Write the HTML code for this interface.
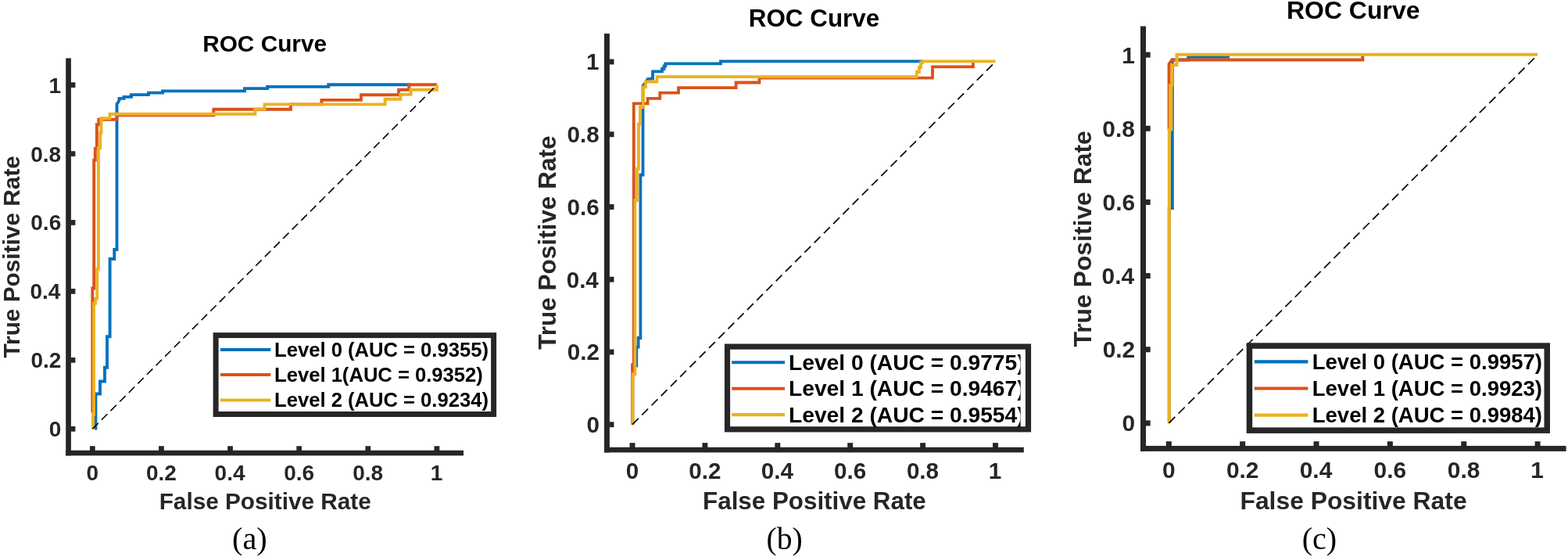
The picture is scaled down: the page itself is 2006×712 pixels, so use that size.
<!DOCTYPE html>
<html><head><meta charset="utf-8"><title>ROC Curves</title>
<style>html,body{margin:0;padding:0;background:#fff;}svg{display:block;}</style></head>
<body><svg width="2006" height="712" viewBox="0 0 2006 712">
<rect width="2006" height="712" fill="#fff"/>
<rect x="84.2" y="74.4" width="6.7" height="508" fill="#262626"/>
<rect x="84.2" y="575.7" width="508.8" height="6.7" fill="#262626"/>
<rect x="114.95" y="570.2" width="6.7" height="6" fill="#262626"/>
<rect x="90.4" y="544.95" width="6" height="6.7" fill="#262626"/>
<rect x="203.07" y="570.2" width="6.7" height="6" fill="#262626"/>
<rect x="90.4" y="457.01" width="6" height="6.7" fill="#262626"/>
<rect x="291.19" y="570.2" width="6.7" height="6" fill="#262626"/>
<rect x="90.4" y="369.07" width="6" height="6.7" fill="#262626"/>
<rect x="379.31" y="570.2" width="6.7" height="6" fill="#262626"/>
<rect x="90.4" y="281.13" width="6" height="6.7" fill="#262626"/>
<rect x="467.43" y="570.2" width="6.7" height="6" fill="#262626"/>
<rect x="90.4" y="193.19" width="6" height="6.7" fill="#262626"/>
<rect x="555.55" y="570.2" width="6.7" height="6" fill="#262626"/>
<rect x="90.4" y="105.25" width="6" height="6.7" fill="#262626"/>
<text x="110.53" y="614.3" font-size="28" fill="#262626" font-family="Liberation Sans, sans-serif" font-weight="bold">0</text>
<text x="62.78" y="558.3" font-size="28" fill="#262626" font-family="Liberation Sans, sans-serif" font-weight="bold">0</text>
<text x="186.96" y="614.3" font-size="28" fill="#262626" font-family="Liberation Sans, sans-serif" font-weight="bold">0.2</text>
<text x="39.4" y="470.36" font-size="28" fill="#262626" font-family="Liberation Sans, sans-serif" font-weight="bold">0.2</text>
<text x="274.59" y="614.3" font-size="28" fill="#262626" font-family="Liberation Sans, sans-serif" font-weight="bold">0.4</text>
<text x="38.42" y="382.42" font-size="28" fill="#262626" font-family="Liberation Sans, sans-serif" font-weight="bold">0.4</text>
<text x="363.14" y="614.3" font-size="28" fill="#262626" font-family="Liberation Sans, sans-serif" font-weight="bold">0.6</text>
<text x="39.29" y="294.48" font-size="28" fill="#262626" font-family="Liberation Sans, sans-serif" font-weight="bold">0.6</text>
<text x="451.19" y="614.3" font-size="28" fill="#262626" font-family="Liberation Sans, sans-serif" font-weight="bold">0.8</text>
<text x="39.15" y="206.54" font-size="28" fill="#262626" font-family="Liberation Sans, sans-serif" font-weight="bold">0.8</text>
<text x="550.63" y="614.3" font-size="28" fill="#262626" font-family="Liberation Sans, sans-serif" font-weight="bold">1</text>
<text x="62.42" y="118.6" font-size="28" fill="#262626" font-family="Liberation Sans, sans-serif" font-weight="bold">1</text>
<text x="259.2" y="65.9" font-size="29" fill="#000" font-family="Liberation Sans, sans-serif" font-weight="bold" textLength="158.92" lengthAdjust="spacingAndGlyphs">ROC Curve</text>
<text x="203.71" y="651.2" font-size="29.5" fill="#262626" font-family="Liberation Sans, sans-serif" font-weight="bold" textLength="271.01" lengthAdjust="spacingAndGlyphs">False Positive Rate</text>
<text transform="translate(25.3 457.53) rotate(-90)" x="0" y="0" font-size="29.5" fill="#262626" font-family="Liberation Sans, sans-serif" font-weight="bold" textLength="258.44" lengthAdjust="spacingAndGlyphs">True Positive Rate</text>
<path d="M122.4 549.5 L122.4 503.5 L128 503.5 L128 487.5 L134 487.5 L134 469.7 L137 469.7 L137 430.2 L140.6 430.2 L140.6 331 L146.3 331 L146.3 319 L149.5 319 L149.5 133 L151 131 L152.5 128 L152.5 125.9 L158.6 125.9 L158.6 123.9 L167.9 123.9 L167.9 121.1 L190 121.1 L190 118.6 L208 118.6 L208 116.4 L313 116.4 L313 113.1 L342 113.1 L342 110.9 L420.2 110.9 L420.2 108.2 L525 108.2" fill="none" stroke="#0072BD" stroke-width="3.9" stroke-linejoin="miter" stroke-linecap="butt"/>
<path d="M118.3 527.4 L118.3 368.5 L120.2 368.5 L120.2 204.8 L121.8 204.8 L121.8 190 L123.9 190 L123.9 159.3 L126.3 159.3 L126.3 152.8 L149.5 152.8 L149.5 147.4 L273.3 147.4 L273.3 139.7 L371.9 139.7 L371.9 133.4 L411.4 133.4 L411.4 127.9 L461.9 127.9 L461.9 121.3 L510.1 121.3 L510.1 114.7 L523.3 114.7 L523.3 108.2 L558.9 108.2" fill="none" stroke="#D95319" stroke-width="3.9" stroke-linejoin="miter" stroke-linecap="butt"/>
<path d="M119 548.3 L119 530 L120 530 L120 387.8 L122 387.8 L122 381.6 L124.2 381.6 L124.2 343.8 L125.9 343.8 L125.9 189.4 L128.2 189.4 L128.2 170 L129.5 170 L129.5 151.3 L140.5 151.3 L140.5 145.7 L326.4 145.7 L326.4 139.4 L338.5 139.4 L338.5 133.4 L492.6 133.4 L492.6 126.8 L512.3 126.8 L512.3 120.8 L525.5 120.8 L525.5 114.7 L558.9 114.7 L558.9 108.6" fill="none" stroke="#EDB120" stroke-width="3.9" stroke-linejoin="miter" stroke-linecap="butt"/>
<line x1="118.3" y1="548.3" x2="558.9" y2="108.6" stroke="#000" stroke-width="1.6" stroke-dasharray="10.5 5.9" stroke-dashoffset="0"/>
<rect x="276.1" y="428.6" width="355.5" height="100.9" fill="#fff" stroke="#262626" stroke-width="7"/>
<line x1="281.9" y1="447" x2="346.3" y2="447" stroke="#0072BD" stroke-width="4"/>
<text x="351.08" y="456.4" font-size="25.6" fill="#000" font-family="Liberation Sans, sans-serif" font-weight="bold">Level 0 (AUC = 0.9355)</text>
<line x1="281.9" y1="479.1" x2="346.3" y2="479.1" stroke="#D95319" stroke-width="4"/>
<text x="351.08" y="488.1" font-size="25.6" fill="#000" font-family="Liberation Sans, sans-serif" font-weight="bold">Level 1(AUC = 0.9352)</text>
<line x1="281.9" y1="511.4" x2="346.3" y2="511.4" stroke="#EDB120" stroke-width="4"/>
<text x="351.08" y="519.7" font-size="25.6" fill="#000" font-family="Liberation Sans, sans-serif" font-weight="bold">Level 2 (AUC = 0.9234)</text>
<text x="297.03" y="701.8" font-size="39" fill="#000" font-family="Liberation Serif, serif" font-weight="normal" textLength="44.74" lengthAdjust="spacingAndGlyphs">(a)</text>
<rect x="773" y="42.9" width="6.9" height="535.5" fill="#262626"/>
<rect x="773" y="571.7" width="536.8" height="6.7" fill="#262626"/>
<rect x="805.55" y="566.1" width="6.9" height="6.1" fill="#262626"/>
<rect x="779.4" y="539.25" width="6.1" height="6.9" fill="#262626"/>
<rect x="898.45" y="566.1" width="6.9" height="6.1" fill="#262626"/>
<rect x="779.4" y="446.51" width="6.1" height="6.9" fill="#262626"/>
<rect x="991.35" y="566.1" width="6.9" height="6.1" fill="#262626"/>
<rect x="779.4" y="353.77" width="6.1" height="6.9" fill="#262626"/>
<rect x="1084.25" y="566.1" width="6.9" height="6.1" fill="#262626"/>
<rect x="779.4" y="261.03" width="6.1" height="6.9" fill="#262626"/>
<rect x="1177.15" y="566.1" width="6.9" height="6.1" fill="#262626"/>
<rect x="779.4" y="168.29" width="6.1" height="6.9" fill="#262626"/>
<rect x="1270.05" y="566.1" width="6.9" height="6.1" fill="#262626"/>
<rect x="779.4" y="75.55" width="6.1" height="6.9" fill="#262626"/>
<text x="800.79" y="612.3" font-size="29.6" fill="#262626" font-family="Liberation Sans, sans-serif" font-weight="bold">0</text>
<text x="750.46" y="553" font-size="29.6" fill="#262626" font-family="Liberation Sans, sans-serif" font-weight="bold">0</text>
<text x="881.33" y="612.3" font-size="29.6" fill="#262626" font-family="Liberation Sans, sans-serif" font-weight="bold">0.2</text>
<text x="725.74" y="460.26" font-size="29.6" fill="#262626" font-family="Liberation Sans, sans-serif" font-weight="bold">0.2</text>
<text x="973.71" y="612.3" font-size="29.6" fill="#262626" font-family="Liberation Sans, sans-serif" font-weight="bold">0.4</text>
<text x="724.7" y="367.52" font-size="29.6" fill="#262626" font-family="Liberation Sans, sans-serif" font-weight="bold">0.4</text>
<text x="1067.07" y="612.3" font-size="29.6" fill="#262626" font-family="Liberation Sans, sans-serif" font-weight="bold">0.6</text>
<text x="725.62" y="274.78" font-size="29.6" fill="#262626" font-family="Liberation Sans, sans-serif" font-weight="bold">0.6</text>
<text x="1159.89" y="612.3" font-size="29.6" fill="#262626" font-family="Liberation Sans, sans-serif" font-weight="bold">0.8</text>
<text x="725.47" y="182.04" font-size="29.6" fill="#262626" font-family="Liberation Sans, sans-serif" font-weight="bold">0.8</text>
<text x="1264.75" y="612.3" font-size="29.6" fill="#262626" font-family="Liberation Sans, sans-serif" font-weight="bold">1</text>
<text x="750.07" y="89.3" font-size="29.6" fill="#262626" font-family="Liberation Sans, sans-serif" font-weight="bold">1</text>
<text x="957.8" y="34.1" font-size="30.5" fill="#000" font-family="Liberation Sans, sans-serif" font-weight="bold" textLength="167.38" lengthAdjust="spacingAndGlyphs">ROC Curve</text>
<text x="899.1" y="650.8" font-size="31" fill="#262626" font-family="Liberation Sans, sans-serif" font-weight="bold" textLength="285.67" lengthAdjust="spacingAndGlyphs">False Positive Rate</text>
<text transform="translate(710.9 446.85) rotate(-90)" x="0" y="0" font-size="31" fill="#262626" font-family="Liberation Sans, sans-serif" font-weight="bold" textLength="273.32" lengthAdjust="spacingAndGlyphs">True Positive Rate</text>
<path d="M809.3 542.7 L809.3 467.5 L814.3 467.5 L814.3 443.5 L816.6 443.5 L816.6 432 L819.4 432 L819.4 223.5 L822.5 223.5 L822.5 110 L824 108 L827 104 L828.6 101 L835 100.5 L835 91.3 L847 91.3 L847 88 L849.5 88 L849.5 84.5 L851.3 84.5 L851.3 81.3 L922 81.3 L922 78.4 L1181 78.4" fill="none" stroke="#0072BD" stroke-width="3.8" stroke-linejoin="miter" stroke-linecap="butt"/>
<path d="M809.3 542.7 L809.3 466 L810.8 466 L810.8 132.4 L828.6 132.4 L828.6 125.9 L844.3 125.9 L844.3 118.7 L868 118.7 L868 112.2 L941.6 112.2 L941.6 105.5 L971.4 105.5 L971.4 99.6 L1193 99.6 L1193 85.4 L1244.9 85.4 L1244.9 79.5" fill="none" stroke="#D95319" stroke-width="3.8" stroke-linejoin="miter" stroke-linecap="butt"/>
<path d="M809.5 542.7 L809.5 478.3 L812.4 478.3 L812.4 256 L815 256 L815 215.8 L817 215.8 L817 158.6 L819 158.6 L819 137 L822.9 137 L822.9 111.3 L826 111.3 L826 104.5 L840.4 104.5 L840.4 98.1 L1172.8 98.1 L1172.8 92 L1176 92 L1176 86 L1178 86 L1178 80 L1180 80 L1180 78.4 L1273.5 78.4" fill="none" stroke="#EDB120" stroke-width="3.8" stroke-linejoin="miter" stroke-linecap="butt"/>
<line x1="809" y1="542.7" x2="1273.5" y2="79" stroke="#000" stroke-width="1.7" stroke-dasharray="11.1 6.2" stroke-dashoffset="0"/>
<rect x="930.5" y="443.1" width="385" height="105.7" fill="#fff" stroke="#262626" stroke-width="7.2"/>
<clipPath id="clipb"><rect x="930" y="440" width="375.6" height="112"/></clipPath>
<g clip-path="url(#clipb)">
<line x1="936.1" y1="463.2" x2="1004" y2="463.2" stroke="#0072BD" stroke-width="4.1"/>
<text x="1009.01" y="472.8" font-size="28.2" fill="#000" font-family="Liberation Sans, sans-serif" font-weight="bold">Level 0 (AUC = 0.9775)</text>
<line x1="936.1" y1="496.7" x2="1004" y2="496.7" stroke="#D95319" stroke-width="4.1"/>
<text x="1009.01" y="506.2" font-size="28.2" fill="#000" font-family="Liberation Sans, sans-serif" font-weight="bold">Level 1 (AUC = 0.9467)</text>
<line x1="936.1" y1="530.1" x2="1004" y2="530.1" stroke="#EDB120" stroke-width="4.1"/>
<text x="1009.01" y="539.7" font-size="28.2" fill="#000" font-family="Liberation Sans, sans-serif" font-weight="bold">Level 2 (AUC = 0.9554)</text>
</g>
<text x="980.56" y="701.8" font-size="39" fill="#000" font-family="Liberation Serif, serif" font-weight="normal" textLength="46.19" lengthAdjust="spacingAndGlyphs">(b)</text>
<rect x="1459" y="33.5" width="7" height="543.4" fill="#262626"/>
<rect x="1459" y="569.9" width="544.6" height="7" fill="#262626"/>
<rect x="1491.8" y="564.2" width="7" height="6.2" fill="#262626"/>
<rect x="1465.5" y="537.4" width="6.2" height="7" fill="#262626"/>
<rect x="1586.16" y="564.2" width="7" height="6.2" fill="#262626"/>
<rect x="1465.5" y="443.24" width="6.2" height="7" fill="#262626"/>
<rect x="1680.52" y="564.2" width="7" height="6.2" fill="#262626"/>
<rect x="1465.5" y="349.08" width="6.2" height="7" fill="#262626"/>
<rect x="1774.88" y="564.2" width="7" height="6.2" fill="#262626"/>
<rect x="1465.5" y="254.92" width="6.2" height="7" fill="#262626"/>
<rect x="1869.24" y="564.2" width="7" height="6.2" fill="#262626"/>
<rect x="1465.5" y="160.76" width="6.2" height="7" fill="#262626"/>
<rect x="1963.6" y="564.2" width="7" height="6.2" fill="#262626"/>
<rect x="1465.5" y="66.6" width="6.2" height="7" fill="#262626"/>
<text x="1487" y="611.3" font-size="29.9" fill="#262626" font-family="Liberation Sans, sans-serif" font-weight="bold">0</text>
<text x="1435.6" y="551.3" font-size="29.9" fill="#262626" font-family="Liberation Sans, sans-serif" font-weight="bold">0</text>
<text x="1568.88" y="611.3" font-size="29.9" fill="#262626" font-family="Liberation Sans, sans-serif" font-weight="bold">0.2</text>
<text x="1410.63" y="457.14" font-size="29.9" fill="#262626" font-family="Liberation Sans, sans-serif" font-weight="bold">0.2</text>
<text x="1662.72" y="611.3" font-size="29.9" fill="#262626" font-family="Liberation Sans, sans-serif" font-weight="bold">0.4</text>
<text x="1409.59" y="362.98" font-size="29.9" fill="#262626" font-family="Liberation Sans, sans-serif" font-weight="bold">0.4</text>
<text x="1757.54" y="611.3" font-size="29.9" fill="#262626" font-family="Liberation Sans, sans-serif" font-weight="bold">0.6</text>
<text x="1410.52" y="268.82" font-size="29.9" fill="#262626" font-family="Liberation Sans, sans-serif" font-weight="bold">0.6</text>
<text x="1851.82" y="611.3" font-size="29.9" fill="#262626" font-family="Liberation Sans, sans-serif" font-weight="bold">0.8</text>
<text x="1410.37" y="174.66" font-size="29.9" fill="#262626" font-family="Liberation Sans, sans-serif" font-weight="bold">0.8</text>
<text x="1958.26" y="611.3" font-size="29.9" fill="#262626" font-family="Liberation Sans, sans-serif" font-weight="bold">1</text>
<text x="1435.21" y="80.5" font-size="29.9" fill="#262626" font-family="Liberation Sans, sans-serif" font-weight="bold">1</text>
<text x="1645.96" y="24.4" font-size="31" fill="#000" font-family="Liberation Sans, sans-serif" font-weight="bold" textLength="170.54" lengthAdjust="spacingAndGlyphs">ROC Curve</text>
<text x="1586.47" y="650.8" font-size="31.5" fill="#262626" font-family="Liberation Sans, sans-serif" font-weight="bold" textLength="290.12" lengthAdjust="spacingAndGlyphs">False Positive Rate</text>
<text transform="translate(1395.9 443.55) rotate(-90)" x="0" y="0" font-size="31.5" fill="#262626" font-family="Liberation Sans, sans-serif" font-weight="bold" textLength="276.33" lengthAdjust="spacingAndGlyphs">True Positive Rate</text>
<path d="M1495.8 540.9 L1495.8 266 L1499.8 266 L1499.8 76.6 L1520.3 76.6 L1520.3 72.7 L1570.9 72.7 L1570.9 70.8" fill="none" stroke="#0072BD" stroke-width="4" stroke-linejoin="miter" stroke-linecap="butt"/>
<path d="M1495.6 166 L1495.6 82 L1497 80 L1499.7 76.4 L1743.3 76.4 L1743.3 70.8" fill="none" stroke="#D95319" stroke-width="4" stroke-linejoin="miter" stroke-linecap="butt"/>
<path d="M1495.8 540.9 L1495.8 166 L1497.1 166 L1497.1 109 L1499.3 109 L1499.3 83 L1505.5 83 L1505.5 69.8 L1967.1 69.8" fill="none" stroke="#EDB120" stroke-width="4" stroke-linejoin="miter" stroke-linecap="butt"/>
<path d="M1498.4 167 L1498.4 108" fill="none" stroke="#EDB120" stroke-width="4" stroke-linejoin="miter" stroke-linecap="butt"/>
<line x1="1495.3" y1="540.9" x2="1967.1" y2="70.1" stroke="#000" stroke-width="1.7" stroke-dasharray="11.3 6.25" stroke-dashoffset="0"/>
<rect x="1598.45" y="442.05" width="380.8" height="108.1" fill="#fff" stroke="#262626" stroke-width="7.5"/>
<line x1="1604.8" y1="462.3" x2="1673.4" y2="462.3" stroke="#0072BD" stroke-width="4.2"/>
<text x="1678.76" y="472.2" font-size="27.5" fill="#000" font-family="Liberation Sans, sans-serif" font-weight="bold">Level 0 (AUC = 0.9957)</text>
<line x1="1604.8" y1="496.5" x2="1673.4" y2="496.5" stroke="#D95319" stroke-width="4.2"/>
<text x="1678.76" y="506.2" font-size="27.5" fill="#000" font-family="Liberation Sans, sans-serif" font-weight="bold">Level 1 (AUC = 0.9923)</text>
<line x1="1604.8" y1="530.6" x2="1673.4" y2="530.6" stroke="#EDB120" stroke-width="4.2"/>
<text x="1678.76" y="540.1" font-size="27.5" fill="#000" font-family="Liberation Sans, sans-serif" font-weight="bold">Level 2 (AUC = 0.9984)</text>
<text x="1665.74" y="701.8" font-size="39" fill="#000" font-family="Liberation Serif, serif" font-weight="normal" textLength="44.42" lengthAdjust="spacingAndGlyphs">(c)</text>
</svg></body></html>
